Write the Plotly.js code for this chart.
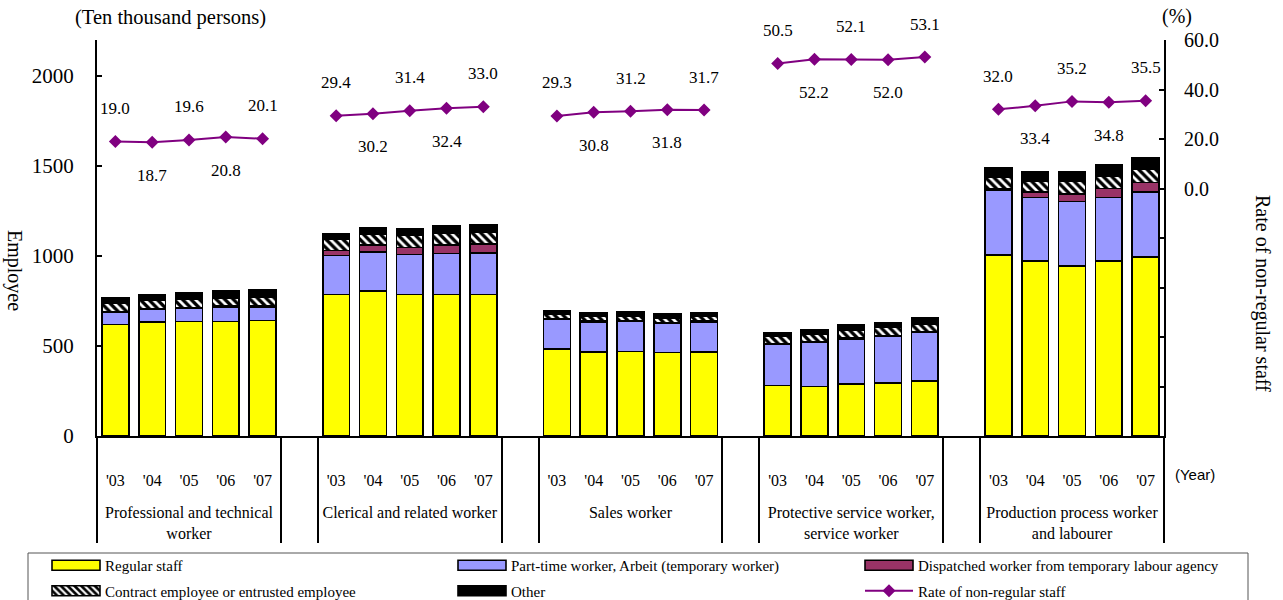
<!DOCTYPE html>
<html>
<head>
<meta charset="utf-8">
<script src="https://cdn.plot.ly/plotly-3.0.1.min.js"></script>
<style>
  html, body { margin: 0; padding: 0; background: #fff; }
  #chart { width: 1283px; height: 600px; }
</style>
</head>
<body>
<div id="chart"></div>
<script>
// Occupation groups (second-level category labels) and survey years
const groups = [
  "Professional and technical<br>worker",
  "Clerical and related worker",
  "Sales worker",
  "Protective service worker,<br>service worker",
  "Production process worker<br>and labourer"
];
const years = ["'03", "'04", "'05", "'06", "'07"];

// Employees by form of employment (ten thousand persons), one row per group
const regular    = [[620, 635, 637, 637, 641], [787, 806, 787, 787, 787], [485, 468, 470, 463, 468], [280, 276, 289, 296, 304], [1006, 972, 944, 972, 993]];
const partTime   = [[68, 68, 71, 76, 76], [215, 216, 222, 228, 231], [165, 167, 167, 163, 165], [231, 245, 250, 256, 272], [361, 354, 358, 354, 361]];
const dispatched = [[4, 5, 7, 8, 9], [28, 39, 39, 46, 49], [3, 4, 4, 5, 5], [3, 3, 4, 4, 4], [5, 31, 41, 50, 55]];
const contract   = [[45, 44, 46, 47, 44], [64, 61, 67, 65, 68], [25, 28, 26, 26, 25], [40, 39, 46, 46, 42], [67, 61, 70, 68, 73]];
const other      = [[33, 35, 35, 36, 40], [28, 37, 35, 44, 41], [16, 18, 22, 23, 24], [22, 26, 28, 28, 32], [52, 50, 54, 60, 61]];

// Rate of non-regular staff (%)
const rate = [[19.0, 18.7, 19.6, 20.8, 20.1], [29.4, 30.2, 31.4, 32.4, 33.0], [29.3, 30.8, 31.2, 31.8, 31.7], [50.5, 52.2, 52.1, 52.0, 53.1], [32.0, 33.4, 35.2, 34.8, 35.5]];

// Right axis ticks
const rateTicks = [-100, -80, -60, -40, -20, 0, 20, 40, 60];

const SERIF = "Liberation Serif, Times New Roman, serif";

// Multicategory x values: each group of five years, with one blank slot between groups.
// Group names start with two empty lines so that they sit below the year row.
const xGroup = [], xYear = [], slotIndex = [];
groups.forEach((g, gi) => {
  years.forEach((yr, yi) => {
    slotIndex.push([gi, yi, xGroup.length]);
    xGroup.push("<br><br>" + g); xYear.push(yr);
  });
  if (gi < groups.length - 1) {
    xGroup.push(" ".repeat(gi + 1)); xYear.push(" ");
  }
});

function spread(series) {
  const out = new Array(xGroup.length).fill(null);
  slotIndex.forEach(([gi, yi, k]) => { out[k] = series[gi][yi]; });
  return out;
}

function barTrace(name, series, color, legend, pattern) {
  const marker = { color: color, line: { color: "#000", width: 1.6 } };
  if (pattern) marker.pattern = pattern;
  return {
    type: "bar", name: name, x: [xGroup, xYear], y: spread(series),
    marker: marker, legend: legend, legendgroup: name, hoverinfo: "skip"
  };
}

const traces = [
  barTrace("Regular staff", regular, "#FFFF00", "legend"),
  barTrace("Part-time worker, Arbeit (temporary worker)", partTime, "#9999FF", "legend2"),
  barTrace("Dispatched worker from temporary labour agency", dispatched, "#993366", "legend3"),
  barTrace("Contract employee or entrusted employee", contract, "#000000", "legend",
           { shape: "\\", fgcolor: "#ffffff", bgcolor: "#000000", size: 6, solidity: 0.45 }),
  barTrace("Other", other, "#000000", "legend2"),
  {
    type: "scatter", mode: "lines+markers", name: "Rate of non-regular staff",
    x: [xGroup, xYear], y: spread(rate), yaxis: "y2", connectgaps: false,
    line: { color: "#800080", width: 2 },
    marker: { symbol: "diamond", size: 10, color: "#800080" },
    legend: "legend3", legendgroup: "rate", hoverinfo: "skip"
  }
];

// Pixel helpers for layout placement (plot area spans x 97..1164, y 40..436)
const PX = px => (px - 97) / 1067;
const PY = py => (436 - py) / 396;

const annotations = [];
// Rate value labels, alternating above and below the markers
slotIndex.forEach(([gi, yi, k]) => {
  const v = rate[gi][yi];
  annotations.push({
    x: k, y: v, xref: "x", yref: "y2", text: v.toFixed(1), showarrow: false,
    xanchor: "center", yanchor: "middle",
    yshift: yi % 2 === 0 ? 33 : -33, font: { family: SERIF, size: 17, color: "#000" }
  });
});

function label(px, py, text, opts) {
  return Object.assign({
    x: PX(px), y: PY(py), xref: "paper", yref: "paper", text: text, showarrow: false,
    xanchor: "center", yanchor: "middle", font: { family: SERIF, size: 20, color: "#000" }
  }, opts || {});
}
annotations.push(
  label(170, 18, "(Ten thousand persons)", { font: { family: SERIF, size: 20.5, color: "#000" } }),
  label(1177, 16, "(%)"),
  label(15, 270, "Employee", { textangle: 90 }),
  label(1263, 294, "Rate of non-regular staff", { textangle: 90 }),
  label(1195, 475, "(Year)", { font: { family: "Liberation Sans, Arial, sans-serif", size: 15, color: "#000" } })
);

function legendAt(px) {
  return {
    orientation: "v", x: PX(px), xanchor: "left", y: PY(549), yanchor: "top",
    bgcolor: "rgba(0,0,0,0)", borderwidth: 0, itemwidth: 48, tracegroupgap: 3,
    font: { family: SERIF, size: 15, color: "#000" }, itemclick: false, itemdoubleclick: false
  };
}

const layout = {
  width: 1283, height: 600,
  margin: { l: 97, r: 119, t: 40, b: 164, pad: 0, autoexpand: false },
  paper_bgcolor: "#fff", plot_bgcolor: "#fff",
  font: { family: SERIF, color: "#000" },
  barmode: "stack", bargap: 0.27,
  showlegend: true,
  legend: legendAt(47),
  legend2: legendAt(453),
  legend3: legendAt(860),
  xaxis: {
    type: "multicategory", range: [-0.5, xGroup.length - 0.5],
    showline: true, linecolor: "#000", linewidth: 2,
    ticks: "", showgrid: false, zeroline: false,
    showdividers: true, dividercolor: "#000", dividerwidth: 2,
    ticklabelstandoff: 29,
    tickfont: { family: SERIF, size: 16, color: "#000" }
  },
  yaxis: {
    range: [0, 2200], tickvals: [0, 500, 1000, 1500, 2000],
    showline: true, linecolor: "#000", linewidth: 2,
    ticks: "inside", ticklen: 5, tickwidth: 2, tickcolor: "#000",
    showgrid: false, zeroline: false, ticklabelstandoff: 17,
    tickfont: { family: SERIF, size: 21, color: "#000" }
  },
  yaxis2: {
    overlaying: "y", side: "right", range: [-100, 60],
    tickvals: rateTicks, ticktext: rateTicks.map(t => t >= 0 ? t.toFixed(1) : ""),
    showline: true, linecolor: "#000", linewidth: 2,
    ticks: "inside", ticklen: 5, tickwidth: 2, tickcolor: "#000",
    showgrid: false, zeroline: false, ticklabelstandoff: 14,
    tickfont: { family: SERIF, size: 20, color: "#000" }
  },
  shapes: [
    { type: "rect", xref: "paper", yref: "paper", x0: PX(28), x1: PX(1248), y0: PY(553), y1: PY(640),
      line: { color: "#555", width: 1 }, fillcolor: "rgba(0,0,0,0)", layer: "below" }
  ],
  annotations: annotations
};

// Wider, flatter legend swatches for the bar series
function widenSwatches() {
  document.querySelectorAll("#chart g.legendpoints path").forEach(p => {
    if (p.classList.contains("legendbar") || /^M6,6H-6V-6H6Z$/.test(p.getAttribute("d") || "")) {
      p.setAttribute("d", "M24,5H-24V-5H24Z");
    }
  });
}

const gd = document.getElementById("chart");
Plotly.newPlot(gd, traces, layout, { displayModeBar: false, staticPlot: true }).then(() => {
  widenSwatches();
  gd.on("plotly_afterplot", widenSwatches);
  setTimeout(widenSwatches, 50);
});
</script>
</body>
</html>
